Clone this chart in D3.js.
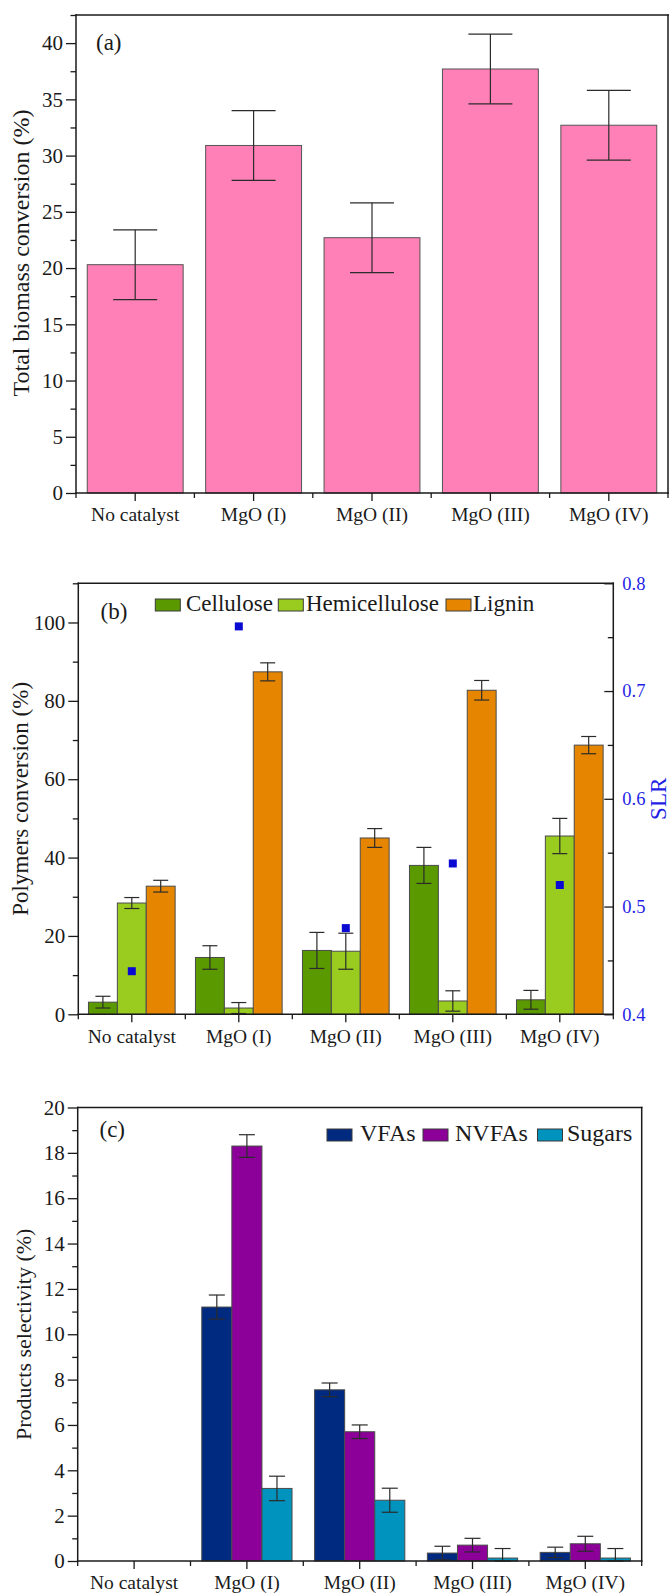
<!DOCTYPE html>
<html><head><meta charset="utf-8">
<script src="https://cdn.jsdelivr.net/npm/d3@7"></script>
<style>body{margin:0;background:#fff} svg{display:block}</style>
</head><body>
<svg id="chart" width="670" height="1593"></svg>
<script>
// ---------- data ----------
const categories = ["No catalyst", "MgO (I)", "MgO (II)", "MgO (III)", "MgO (IV)"];

// (a) total biomass conversion
const totalConversion = [20.3, 30.9, 22.7, 37.7, 32.7];
const totalConversionErr = [3.1, 3.1, 3.1, 3.1, 3.1];
const ticksA = [0, 5, 10, 15, 20, 25, 30, 35, 40];
const minorTicksA = [2.5, 7.5, 12.5, 17.5, 22.5, 27.5, 32.5, 37.5, 42.5];

// (b) polymers conversion + SLR
const polymerSeries = ["Cellulose", "Hemicellulose", "Lignin"];
const cellulose = [3.1, 14.5, 16.3, 38.0, 3.7];
const celluloseErr = [1.5, 3.0, 4.6, 4.6, 2.4];
const hemicellulose = [28.4, 1.6, 16.1, 3.4, 45.5];
const hemicelluloseErr = [1.4, 1.4, 4.6, 2.6, 4.5];
const lignin = [32.7, 87.4, 45.0, 82.7, 68.7];
const ligninErr = [1.5, 2.3, 2.4, 2.5, 2.2];
const slr = [0.44, 0.76, 0.48, 0.54, 0.52];
const ticksB = [0, 20, 40, 60, 80, 100];
const minorTicksB = [10, 30, 50, 70, 90, 110];
const ticksSLR = [0.4, 0.5, 0.6, 0.7, 0.8];
const minorTicksSLR = [0.45, 0.55, 0.65, 0.75];

// (c) products selectivity
const productSeries = ["VFAs", "NVFAs", "Sugars"];
const vfas = [0, 11.2, 7.55, 0.35, 0.38];
const vfasErr = [0, 0.53, 0.3, 0.3, 0.23];
const nvfas = [0, 18.3, 5.7, 0.7, 0.76];
const nvfasErr = [0, 0.5, 0.3, 0.3, 0.33];
const sugars = [0, 3.2, 2.68, 0.13, 0.13];
const sugarsErr = [0, 0.54, 0.53, 0.42, 0.42];
const ticksC = [0, 2, 4, 6, 8, 10, 12, 14, 16, 18, 20];
const minorTicksC = [1, 3, 5, 7, 9, 11, 13, 15, 17, 19];

// ---------- styles ----------
const FONT = "'Liberation Serif','Times New Roman',Times,serif";
const AX = "#1a1a1a";
const BLUE = "#1f1fe6";
const svg = d3.select("#chart");

function frame(L, R, T, B) {
  const g = svg.append("g");
  [[L, T, R, T], [R, T, R, B], [L, T, L, B], [L, B, R, B]].forEach(([x1, y1, x2, y2]) =>
    g.append("line").attr("x1", x1).attr("y1", y1).attr("x2", x2).attr("y2", y2)
      .attr("stroke", AX).attr("stroke-width", 1.5).attr("stroke-linecap", "square"));
}

function styleAxis(g, fs, color) {
  g.attr("font-family", FONT).attr("font-size", fs);
  g.select(".domain").remove();
  g.selectAll(".tick line").attr("stroke", AX).attr("stroke-width", 1.3);
  g.selectAll(".tick text").attr("fill", color);
}

function leftAxis(y, L, majors, minors, fmt) {
  const g1 = svg.append("g").attr("transform", `translate(${L},0)`)
    .call(d3.axisLeft(y).tickValues(majors).tickSize(10).tickPadding(3).tickFormat(fmt));
  styleAxis(g1, 21, "#1a1a1a");
  const g2 = svg.append("g").attr("transform", `translate(${L},0)`)
    .call(d3.axisLeft(y).tickValues(minors.filter(v => v <= y.domain()[1])).tickSize(5.5).tickFormat(""));
  styleAxis(g2, 21, "#1a1a1a");
}

function bottomAxis(x0, B) {
  const g1 = svg.append("g").attr("transform", `translate(0,${B})`)
    .call(d3.axisBottom(x0).tickSize(8).tickPadding(6.5));
  styleAxis(g1, 19.5, "#1a1a1a");
  const step = x0.step();
  const edges = categories.map(c => x0(c) - step * x0.paddingInner() / 2);
  edges.push(x0.range()[1]);
  svg.append("g").selectAll("line").data(edges).join("line")
    .attr("x1", d => d).attr("x2", d => d).attr("y1", B).attr("y2", B + 5)
    .attr("stroke", AX).attr("stroke-width", 1.3);
}

function yTitle(text, x, cy, color, fs) {
  svg.append("text").attr("transform", `translate(${x},${cy}) rotate(-90)`)
    .attr("text-anchor", "middle").attr("font-family", FONT).attr("font-size", fs || 22)
    .attr("fill", color || "#1a1a1a").text(text);
}

function label(text, x, y, fs) {
  svg.append("text").attr("x", x).attr("y", y).attr("font-family", FONT)
    .attr("font-size", fs).attr("fill", "#1a1a1a").text(text);
}

function errorBars(g, items, halfCap) {
  const eb = g.append("g").attr("stroke", "#2b2b2b").attr("stroke-width", 1.2);
  items.forEach(({ cx, yTop, yBot }) => {
    eb.append("line").attr("x1", cx).attr("x2", cx).attr("y1", yTop).attr("y2", yBot);
    eb.append("line").attr("x1", cx - halfCap).attr("x2", cx + halfCap).attr("y1", yTop).attr("y2", yTop);
    eb.append("line").attr("x1", cx - halfCap).attr("x2", cx + halfCap).attr("y1", yBot).attr("y2", yBot);
  });
}

function groupedBars(x0, y, seriesNames, values, errs, colors, halfCap) {
  const x1 = d3.scaleBand().domain(seriesNames).range([0, x0.bandwidth()]).padding(0);
  const g = svg.append("g");
  const rows = [];
  seriesNames.forEach((s, si) => categories.forEach((c, ci) => {
    rows.push({ s, c, v: values[si][ci], e: errs[si][ci], color: colors[si] });
  }));
  g.selectAll("rect").data(rows.filter(d => d.v > 0)).join("rect")
    .attr("x", d => x0(d.c) + x1(d.s)).attr("width", x1.bandwidth())
    .attr("y", d => y(d.v)).attr("height", d => y(0) - y(d.v))
    .attr("fill", d => d.color).attr("stroke", "#4a4a4a").attr("stroke-width", 1);
  errorBars(g, rows.filter(d => d.e > 0).map(d => ({
    cx: x0(d.c) + x1(d.s) + x1.bandwidth() / 2,
    yTop: y(d.v + d.e), yBot: y(Math.max(0, d.v - d.e))
  })), halfCap);
}

function legend(items, y, fs) {
  items.forEach(({ name, color, sx, tx }) => {
    svg.append("rect").attr("x", sx).attr("y", y - 12).attr("width", 25).attr("height", 12)
      .attr("fill", color).attr("stroke", "#3a3a3a").attr("stroke-width", 1);
    label(name, tx, y, fs);
  });
}

// ---------- panel (a) ----------
{
  const L = 76, R = 668, T = 15, B = 493;
  const x0 = d3.scaleBand().domain(categories).range([L, R]).paddingInner(0.19).paddingOuter(0.095);
  const y = d3.scaleLinear().domain([0, 42.5]).range([B, T]);
  const g = svg.append("g");
  g.selectAll("rect").data(categories).join("rect")
    .attr("x", c => x0(c)).attr("width", x0.bandwidth())
    .attr("y", (c, i) => y(totalConversion[i])).attr("height", (c, i) => B - y(totalConversion[i]))
    .attr("fill", "#ff80b6").attr("stroke", "#555").attr("stroke-width", 1);
  errorBars(g, categories.map((c, i) => ({
    cx: x0(c) + x0.bandwidth() / 2,
    yTop: y(totalConversion[i] + totalConversionErr[i]),
    yBot: y(totalConversion[i] - totalConversionErr[i])
  })), 22);
  frame(L, R, T, B);
  leftAxis(y, L, ticksA, minorTicksA, d3.format("d"));
  bottomAxis(x0, B);
  yTitle("Total biomass conversion (%)", 29, 253, "#1a1a1a", 24);
  label("(a)", 96, 49.5, 23);
}

// ---------- panel (b) ----------
{
  const L = 78.3, R = 613.3, T = 583.3, B = 1014.3;
  const x0 = d3.scaleBand().domain(categories).range([L, R]).paddingInner(0.19).paddingOuter(0.095);
  const y = d3.scaleLinear().domain([0, 110]).range([B, T]);
  const y2 = d3.scaleLinear().domain([0.4, 0.8]).range([B, T]);
  const colors = ["#5b9900", "#99cc1f", "#e68600"];
  groupedBars(x0, y, polymerSeries, [cellulose, hemicellulose, lignin],
    [celluloseErr, hemicelluloseErr, ligninErr], colors, 7.5);
  // SLR markers
  svg.append("g").selectAll("rect").data(categories).join("rect")
    .attr("x", c => x0(c) + x0.bandwidth() / 2 - 4)
    .attr("y", (c, i) => y2(slr[i]) - 4)
    .attr("width", 8).attr("height", 8).attr("fill", "#0a0ad2");
  frame(L, R, T, B);
  leftAxis(y, L, ticksB, minorTicksB, d3.format("d"));
  // right SLR axis (ticks inward)
  const gr = svg.append("g").attr("transform", `translate(${R},0)`)
    .call(d3.axisRight(y2).tickValues(ticksSLR).tickSizeInner(-9).tickSizeOuter(0).tickPadding(9).tickFormat(d3.format(".1f")));
  styleAxis(gr, 18.5, BLUE);
  const gr2 = svg.append("g").attr("transform", `translate(${R},0)`)
    .call(d3.axisRight(y2).tickValues(minorTicksSLR).tickSizeInner(-5.5).tickSizeOuter(0).tickFormat(""));
  styleAxis(gr2, 18.5, BLUE);
  bottomAxis(x0, B);
  yTitle("Polymers conversion (%)", 28, (T + B) / 2, "#1a1a1a", 23);
  yTitle("SLR", 666, (T + B) / 2, BLUE, 23);
  label("(b)", 100.5, 619, 23);
  legend([
    { name: "Cellulose", color: colors[0], sx: 155.3, tx: 186 },
    { name: "Hemicellulose", color: colors[1], sx: 278.3, tx: 306 },
    { name: "Lignin", color: colors[2], sx: 446, tx: 473 }
  ], 611, 23);
}

// ---------- panel (c) ----------
{
  const L = 77.7, R = 641.7, T = 1107.5, B = 1561;
  const x0 = d3.scaleBand().domain(categories).range([L, R]).paddingInner(0.2).paddingOuter(0.1);
  const y = d3.scaleLinear().domain([0, 20]).range([B, T]);
  const colors = ["#002a7f", "#8c0099", "#0093bd"];
  groupedBars(x0, y, productSeries, [vfas, nvfas, sugars],
    [vfasErr, nvfasErr, sugarsErr], colors, 8);
  frame(L, R, T, B);
  leftAxis(y, L, ticksC, minorTicksC, d3.format("d"));
  bottomAxis(x0, B);
  yTitle("Products selectivity (%)", 31, (T + B) / 2, "#1a1a1a", 22);
  label("(c)", 99.5, 1137, 23);
  legend([
    { name: "VFAs", color: colors[0], sx: 327, tx: 360 },
    { name: "NVFAs", color: colors[1], sx: 423, tx: 455 },
    { name: "Sugars", color: colors[2], sx: 537.5, tx: 567 }
  ], 1141, 24);
}
</script>
</body></html>
